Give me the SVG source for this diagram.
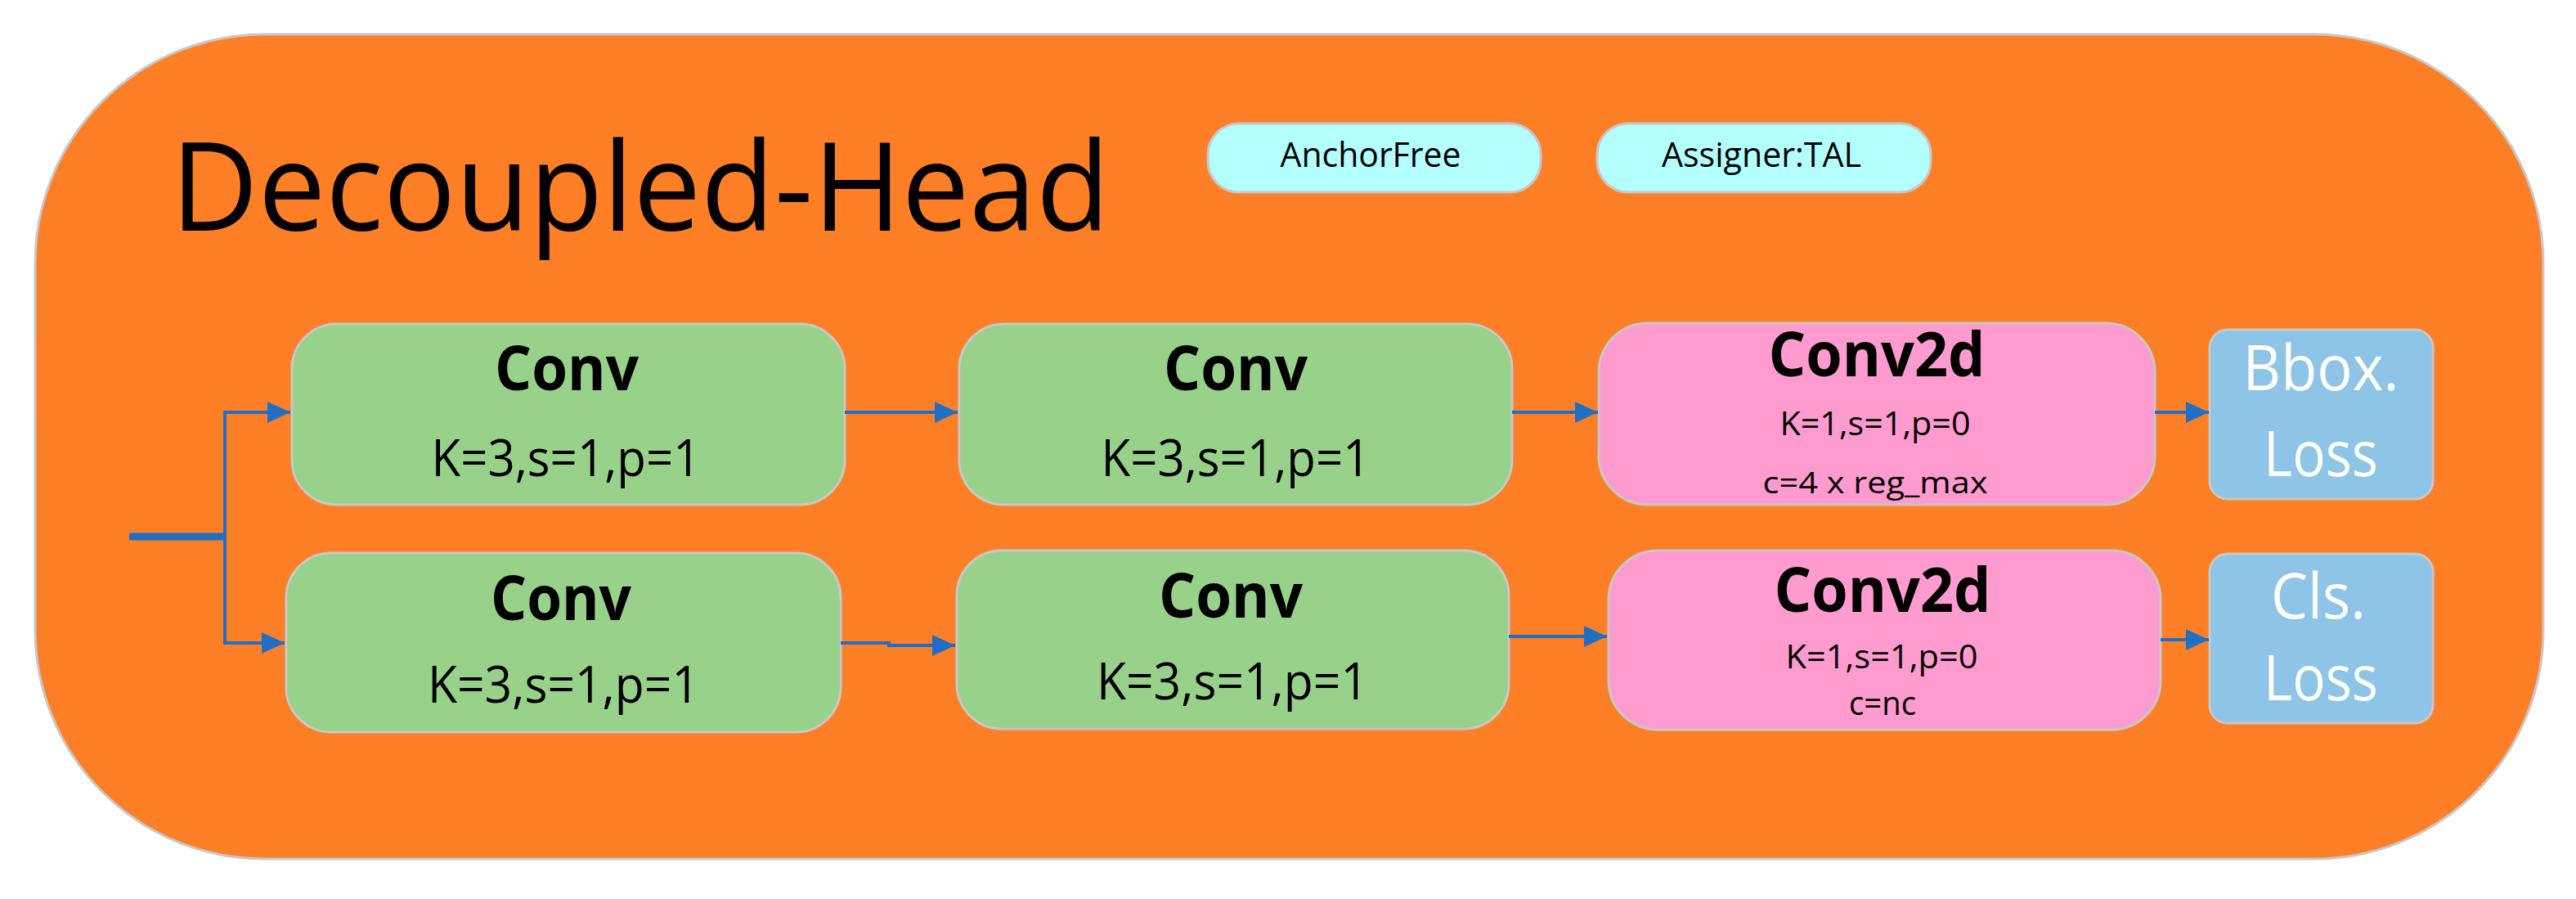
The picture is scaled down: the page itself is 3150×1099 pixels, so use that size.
<svg xmlns="http://www.w3.org/2000/svg" width="3150" height="1099" viewBox="0 0 3150 1099">
<style>
.bg{fill:#FF7F27;stroke:#c8c8c8;stroke-width:3}
.pill{fill:#B4FFFF;stroke:#c8c8c8;stroke-width:3}
.conv{fill:#97D18A;stroke:#c8c8c8;stroke-width:3}
.c2d{fill:#FF9BCE;stroke:#c8c8c8;stroke-width:3}
.loss{fill:#8EC5E6;stroke:#c8c8c8;stroke-width:3}
text{font-family:"Open Sans","Noto Sans","Liberation Sans",sans-serif;text-anchor:middle;fill:#000}
.title{font-size:151px}
.pt{font-size:42px}
.bt{font-size:76px;font-weight:bold}
.st{font-size:62px}
.sm{font-size:40px}
.lt{font-size:76px;fill:#fff}
.edge{fill:none;stroke:#1F6FC5;stroke-width:4}
</style>
<defs>
<marker id="ah" markerUnits="userSpaceOnUse" markerWidth="28" markerHeight="26" refX="28" refY="13" orient="auto">
<path d="M0,0 L28,13 L0,26 z" fill="#1F6FC5"/>
</marker>
</defs>
<g id="frame">
<rect class="bg" x="43" y="42" width="3067" height="1008" rx="280" ry="280"/>
<text class="title" x="783" y="282" textLength="1148" lengthAdjust="spacingAndGlyphs">Decoupled-Head</text>
</g>
<g id="anchorfree">
<rect class="pill" x="1477" y="151" width="407" height="84" rx="38"/>
<text class="pt" x="1676" y="204" textLength="221" lengthAdjust="spacingAndGlyphs">AnchorFree</text>
</g>
<g id="assigner">
<rect class="pill" x="1953" y="151" width="408" height="84" rx="38"/>
<text class="pt" x="2154" y="204" textLength="244" lengthAdjust="spacingAndGlyphs">Assigner:TAL</text>
</g>
<g id="conv1">
<rect class="conv" x="357" y="396" width="676" height="221" rx="55"/>
<text class="bt" x="693" y="477" textLength="176" lengthAdjust="spacingAndGlyphs">Conv</text>
<text class="st" x="692" y="582" textLength="329" lengthAdjust="spacingAndGlyphs">K=3,s=1,p=1</text>
</g>
<g id="conv2">
<rect class="conv" x="1173" y="396" width="676" height="221" rx="55"/>
<text class="bt" x="1511" y="477" textLength="176" lengthAdjust="spacingAndGlyphs">Conv</text>
<text class="st" x="1511" y="582" textLength="329" lengthAdjust="spacingAndGlyphs">K=3,s=1,p=1</text>
</g>
<g id="conv2d1">
<rect class="c2d" x="1955" y="395" width="680" height="222" rx="60"/>
<text class="bt" x="2295" y="460" textLength="265" lengthAdjust="spacingAndGlyphs">Conv2d</text>
<text class="sm" x="2293" y="532" textLength="233" lengthAdjust="spacingAndGlyphs">K=1,s=1,p=0</text>
<text class="sm" x="2293" y="603" textLength="275" lengthAdjust="spacingAndGlyphs" style="font-size:36px">c=4 x reg_max</text>
</g>
<g id="bboxloss">
<rect class="loss" x="2702" y="403" width="273" height="207" rx="22"/>
<text class="lt" x="2838" y="477" textLength="191" lengthAdjust="spacingAndGlyphs">Bbox.</text>
<text class="lt" x="2838" y="582" textLength="140" lengthAdjust="spacingAndGlyphs">Loss</text>
</g>
<g id="conv3">
<rect class="conv" x="350" y="676" width="678" height="219" rx="55"/>
<text class="bt" x="686" y="758" textLength="172" lengthAdjust="spacingAndGlyphs">Conv</text>
<text class="st" x="689" y="859" textLength="332" lengthAdjust="spacingAndGlyphs">K=3,s=1,p=1</text>
</g>
<g id="conv4">
<rect class="conv" x="1170" y="673" width="675" height="218" rx="55"/>
<text class="bt" x="1505" y="755" textLength="176" lengthAdjust="spacingAndGlyphs">Conv</text>
<text class="st" x="1507" y="855" textLength="332" lengthAdjust="spacingAndGlyphs">K=3,s=1,p=1</text>
</g>
<g id="conv2d2">
<rect class="c2d" x="1967" y="673" width="675" height="219" rx="60"/>
<text class="bt" x="2302" y="748" textLength="265" lengthAdjust="spacingAndGlyphs">Conv2d</text>
<text class="sm" x="2301" y="817" textLength="235" lengthAdjust="spacingAndGlyphs">K=1,s=1,p=0</text>
<text class="sm" x="2302" y="874" textLength="82" lengthAdjust="spacingAndGlyphs">c=nc</text>
</g>
<g id="clsloss">
<rect class="loss" x="2702" y="677" width="273" height="207" rx="22"/>
<text class="lt" x="2835" y="756" textLength="116" lengthAdjust="spacingAndGlyphs">Cls.</text>
<text class="lt" x="2838" y="856" textLength="140" lengthAdjust="spacingAndGlyphs">Loss</text>
</g>
<g id="connectors">
<line x1="158" y1="656" x2="277" y2="656" stroke="#1F6FC5" stroke-width="9"/>
<polyline class="edge" points="275,786 275,504"/>
<polyline class="edge" points="273,504 355,504" marker-end="url(#ah)"/>
<polyline class="edge" points="273,786 348,786" marker-end="url(#ah)"/>
<line class="edge" x1="1033" y1="504" x2="1171" y2="504" marker-end="url(#ah)"/>
<line class="edge" x1="1849" y1="504" x2="1954" y2="504" marker-end="url(#ah)"/>
<line class="edge" x1="2635" y1="504" x2="2701" y2="504" marker-end="url(#ah)"/>
<polyline class="edge" points="1028,786 1087,786 1087,789 1168,789" marker-end="url(#ah)"/>
<line class="edge" x1="1845" y1="778" x2="1965" y2="778" marker-end="url(#ah)"/>
<line class="edge" x1="2642" y1="782" x2="2701" y2="782" marker-end="url(#ah)"/>
</g>
</svg>
